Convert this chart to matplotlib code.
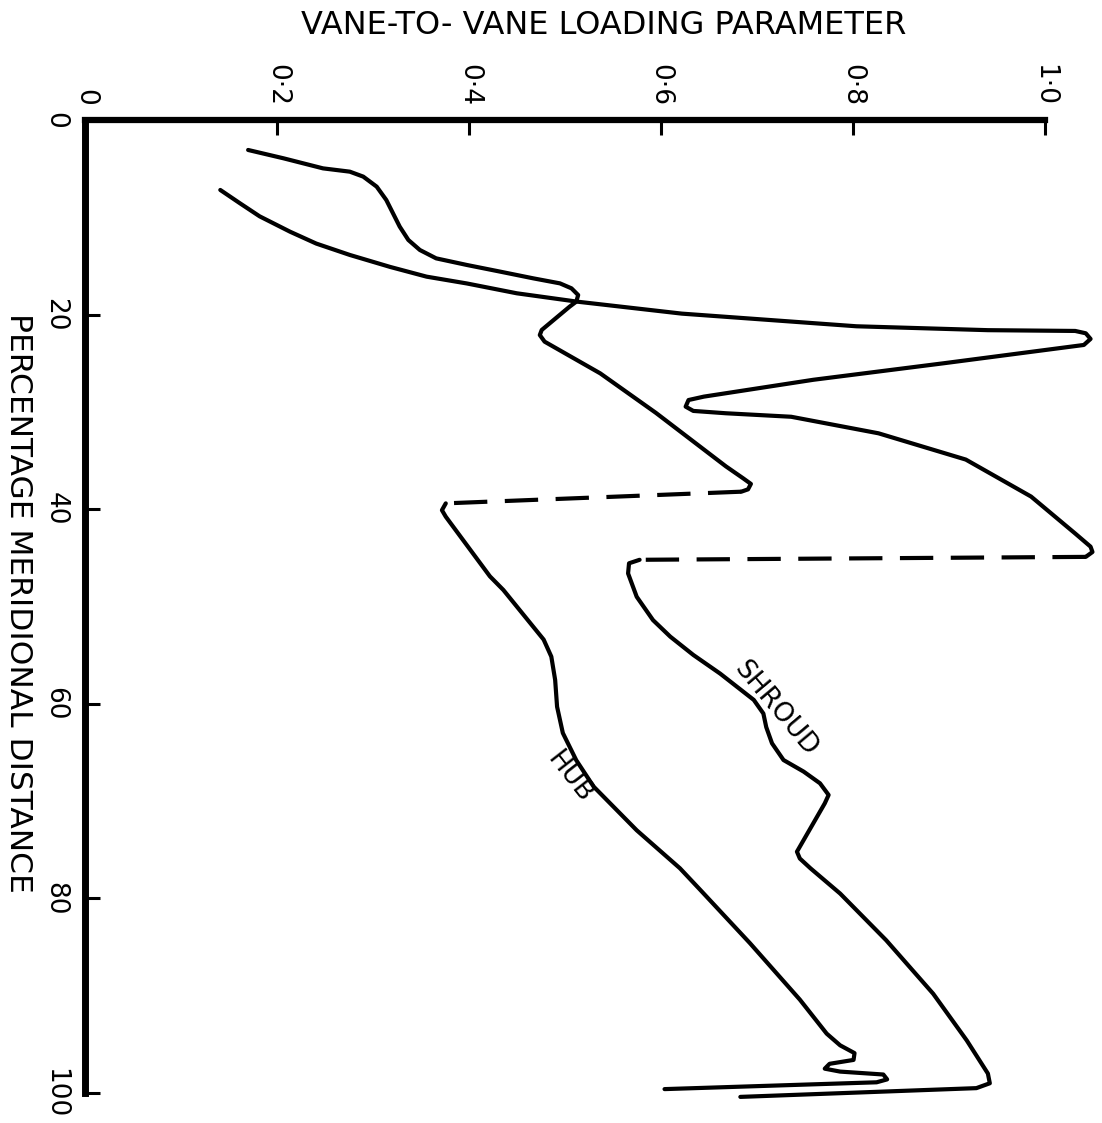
import matplotlib
matplotlib.use("Agg")
import matplotlib.pyplot as plt
import numpy as np

plt.rcParams['font.family'] = ['DejaVu Sans']

# ---- data (percentage meridional distance, vane-to-vane loading parameter) ----
hub_dist = [3.08, 3.94, 4.97, 5.31, 5.82, 6.85, 8.22, 9.59, 10.96, 12.33, 13.36, 14.22, 14.90,
            15.59, 16.27, 16.79, 17.30, 17.99, 18.67, 19.19, 21.58, 22.10, 22.78, 26.04,
            30.1, 35.6, 36.83, 37.4, 37.96, 38.2,
            39.4, 40.1, 40.77, 46.9, 48.3, 53.4, 55.15, 57.55, 60.3, 63.0, 65.8, 68.5, 73.0,
            76.9, 79.1, 84.6, 90.4, 93.9, 95.1, 95.9, 96.6, 97.0, 97.5, 97.8, 98.1, 98.6,
            98.9, 99.6]
hub_load = [0.170, 0.207, 0.248, 0.276, 0.290, 0.304, 0.314, 0.321, 0.328, 0.337, 0.349, 0.366, 0.398,
            0.433, 0.467, 0.495, 0.507, 0.514, 0.512, 0.505, 0.476, 0.474, 0.479, 0.537,
            0.595, 0.668, 0.686, 0.694, 0.691, 0.684,
            0.376, 0.372, 0.376, 0.422, 0.436, 0.478, 0.486, 0.490, 0.492, 0.498, 0.512, 0.530, 0.575,
            0.620, 0.641, 0.693, 0.745, 0.773, 0.787, 0.802, 0.801, 0.776, 0.771, 0.787, 0.832, 0.836,
            0.825, 0.604]
hub_gap = 29   # index where the dashed (interrupted) hub segment starts

shroud_dist = [7.19, 8.56, 9.9, 11.48, 12.7, 13.87, 15.1, 16.10, 16.8, 17.81, 18.67, 19.9, 21.2,
               21.6, 21.68, 21.92, 22.5, 23.12, 23.30, 25.0, 26.7, 28.43, 28.78, 29.46, 29.9,
               30.14, 30.5, 32.2, 34.9, 38.7, 42.5, 43.85, 44.4, 44.9,
               45.2, 45.56, 46.6, 49.0, 51.4, 53.1, 54.98, 56.9, 59.6, 61.0, 62.4, 64.06, 65.78,
               66.97, 68.17, 69.37, 70.23, 75.2, 75.9, 76.9, 79.5, 84.3, 89.8, 94.6, 98.0, 99.0,
               99.5, 100.4]
shroud_load = [0.141, 0.1615, 0.182, 0.2137, 0.241, 0.276, 0.318, 0.356, 0.398, 0.450, 0.513, 0.622, 0.804,
               0.941, 1.032, 1.043, 1.048, 1.041, 1.027, 0.895, 0.759, 0.645, 0.629, 0.626, 0.634,
               0.668, 0.736, 0.827, 0.918, 0.986, 1.032, 1.048, 1.050, 1.043,
               0.578, 0.567, 0.566, 0.575, 0.592, 0.610, 0.634, 0.662, 0.697, 0.707, 0.710, 0.716, 0.728,
               0.749, 0.766, 0.775, 0.771, 0.742, 0.745, 0.756, 0.787, 0.835, 0.884, 0.919, 0.941, 0.943,
               0.929, 0.683]
shroud_gap = 33

load_ticks = [0, 0.2, 0.4, 0.6, 0.8, 1.0]
load_labels = ['0', '0·2', '0·4', '0·6', '0·8', '1·0']
dist_ticks = [0, 20, 40, 60, 80, 100]
dist_labels = ['0', '20', '40', '60', '80', '100']

W, H = 1102, 1123
fig = plt.figure(figsize=(W / 100, H / 100), dpi=100)
x0, y0top = 85, 120
px_per_load = 959.5
px_per_dist = 9.73
ax = fig.add_axes([x0 / W, 0, 1 - x0 / W, 1 - y0top / H])
ax.set_xlim(0, (W - x0) / px_per_load)
ax.set_ylim((H - y0top) / px_per_dist, 0)

lw = 3.0
kw = dict(color='black', lw=lw, solid_capstyle='round', solid_joinstyle='round')


def draw(d, l, g):
    d = np.asarray(d); l = np.asarray(l)
    ax.plot(l[:g + 1], d[:g + 1], **kw)
    dl, = ax.plot(l[g:g + 2], d[g:g + 2], color='black', lw=lw, dash_capstyle='butt')
    dl.set_dashes((8, 4.2))
    ax.plot(l[g + 1:], d[g + 1:], **kw)


draw(hub_dist, hub_load, hub_gap)
draw(shroud_dist, shroud_load, shroud_gap)

# spines
for s in ['right', 'bottom']:
    ax.spines[s].set_visible(False)
ax.spines['top'].set_linewidth(4.5)
ax.spines['left'].set_linewidth(5)
ax.spines['top'].set_bounds(0, 1.0)
ax.spines['left'].set_bounds(0, 100)
ax.spines['top'].set_capstyle('projecting')
ax.spines['left'].set_capstyle('projecting')

ax.xaxis.set_ticks_position('top')
ax.xaxis.set_label_position('top')
ax.set_xticks(load_ticks)
ax.set_xticklabels(load_labels, rotation=270, fontsize=19)
ax.set_yticks(dist_ticks)
ax.set_yticklabels(dist_labels, rotation=270, fontsize=19, va='center')
ax.tick_params(axis='x', direction='in', length=11, width=2.2, pad=10)
ax.tick_params(axis='y', direction='in', length=11, width=2.2, pad=12)
for t in ax.get_xticklabels():
    t.set_va('bottom')
    t.set_ha('center')

fig.text(604 / W, 1 - 25 / H, 'VANE-TO- VANE LOADING PARAMETER', ha='center', va='center', fontsize=23)
fig.text(18 / W, 1 - 603 / H, 'PERCENTAGE MERIDIONAL DISTANCE', ha='center', va='center',
         rotation=270, fontsize=22.5)

ax.text(0.72, 60.5, 'SHROUD', rotation=-50, ha='center', va='center', fontsize=19,
        rotation_mode='anchor')
ax.text(0.505, 67.5, 'HUB', rotation=-52, ha='center', va='center', fontsize=19,
        rotation_mode='anchor')

fig.savefig('out.png', dpi=100)
